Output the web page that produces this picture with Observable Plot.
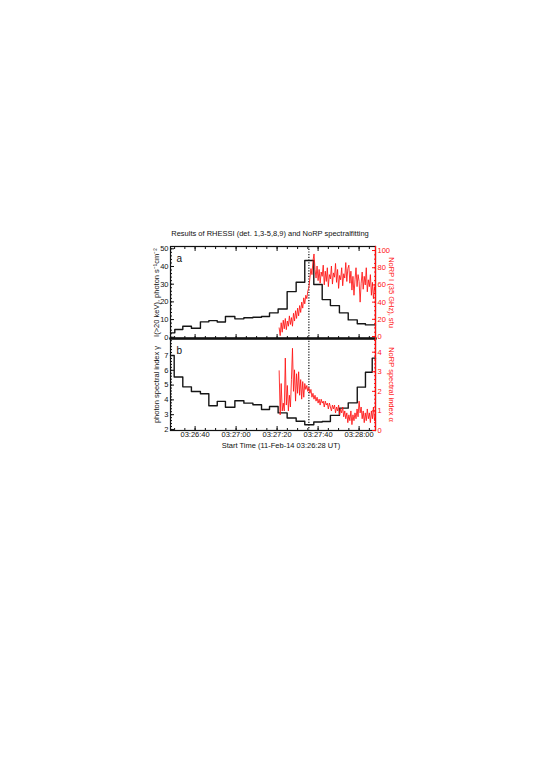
<!DOCTYPE html>
<html><head><meta charset="utf-8">
<script src="https://cdn.jsdelivr.net/npm/d3@7"></script>
<script src="https://cdn.jsdelivr.net/npm/@observablehq/plot@0.6"></script>
<style>
body{margin:0;background:#fff;}
#wrap{position:relative;width:540px;height:763px;font-family:"Liberation Sans",Arial,Helvetica,sans-serif;}
#wrap svg{position:absolute;left:0;top:0;}
#title{position:absolute;left:0;width:540px;top:229.5px;text-align:center;font-size:7.5px;line-height:1;color:#111;white-space:nowrap;}
</style></head>
<body>
<div id="wrap"><div id="title">Results of RHESSI (det. 1,3-5,8,9) and NoRP spectralfitting</div></div>
<script>
// ---- data (time in seconds after 03:26:28 UT) ----
const timeStart = 0, timeEnd = 100;
const xTicks = [12, 32, 52, 72, 92];
const xTickLabels = ["03:26:40", "03:27:00", "03:27:20", "03:27:40", "03:28:00"];
const peakTime = 67.5;

// RHESSI >20 keV flux histogram (bin start times, values)
const fluxBinStart = [0, 2.1, 6.0, 10.2, 14.6, 18.7, 22.8, 26.8, 31.4, 35.8, 40.2, 44.4, 48.3, 52.5, 56.9, 61.3, 65.5, 69.9, 74.0, 78.0, 82.4, 86.7, 91.1, 95.1];
const fluxValues   = [2.5, 4.4, 6.2, 5.1, 8.7, 9.4, 8.6, 11.7, 10.4, 11.0, 11.3, 11.7, 13.8, 16.0, 25.8, 31.1, 43.4, 29.8, 21.3, 17.9, 13.8, 9.8, 7.6, 7.0];

// RHESSI photon spectral index gamma
const gammaBinStart = [0, 1.8, 6.0, 10.2, 14.6, 18.7, 22.8, 26.8, 31.4, 35.8, 40.2, 44.4, 48.3, 52.5, 56.9, 61.3, 65.5, 69.9, 74.0, 78.0, 82.4, 86.7, 91.1, 95.1, 98.4];
const gammaValues   = [7.0, 5.55, 4.88, 4.57, 4.41, 3.6, 3.9, 3.5, 3.94, 3.78, 3.67, 3.35, 3.55, 3.12, 2.78, 2.56, 2.32, 2.5, 2.54, 2.95, 3.44, 3.8, 4.86, 5.87, 6.82];

// NoRP 35 GHz flux (sfu), sampled every 0.5 s from t = 53 s
const norpStart = 53, norpStep = 0.5;
const norpFlux = [10,1,16,5,19,9,21,8,18,12,24,14,22,12,27,18,30,21,33,24,36,28,40,33,45,38,48,44,53,57,
  68,79,72,88,96,78,68,82,65,78,62,75,70,83,60,76,64,80,58,72,67,82,61,74,69,85,63,78,56,71,
  66,80,59,73,68,86,64,79,83,62,76,54,70,48,66,80,58,72,64,40,62,75,55,70,60,80,52,66,58,72,
  48,63,44,58,50];

// NoRP spectral index alpha, same sampling
const norpAlpha = [3.05,0.8,2.4,1.0,1.4,1.0,3.7,1.3,2.3,1.0,1.8,1.2,2.6,4.2,2.0,3.1,1.5,2.9,1.9,3.0,
  1.8,2.6,1.6,2.5,1.7,2.4,2.1,2.3,2.0,2.2,1.9,2.1,1.7,1.9,1.6,1.8,1.5,1.7,1.4,1.6,
  1.3,1.6,1.4,1.5,1.2,1.5,1.3,1.4,1.1,1.4,1.2,1.0,1.3,1.1,1.3,0.9,1.2,1.0,1.3,0.8,
  1.1,0.9,1.2,0.7,1.0,0.6,0.9,0.4,0.8,0.5,1.0,0.3,0.8,0.5,0.9,0.6,1.1,0.7,1.5,0.9,
  1.2,0.6,1.0,0.4,0.9,0.5,1.1,0.6,0.9,0.4,1.0,0.6,1.2,0.5,0.9];

const fluxTicks = [0, 10, 20, 30, 40, 50];
const fluxMinor = d3.range(0, 51, 2);
const sfuTicks = [0, 20, 40, 60, 80, 100];
const sfuMinor = d3.range(0, 101, 5);
const gammaTicks = [2, 3, 4, 5, 6, 7];
const gammaMinor = d3.range(2, 8.01, 0.2);
const alphaTicks = [0, 1, 2, 3, 4];
const alphaMinor = d3.range(0, 4.61, 0.2);
const xMinor = d3.range(2, 100, 5);

// ---- build ----
const font = '"Liberation Sans", Arial, Helvetica, sans-serif';
const RED = "#ff1010";
const stepRows = (starts, vals) => starts.map((t, i) => ({t, v: vals[i]})).concat([{t: timeEnd, v: vals[vals.length - 1]}]);
const seriesRows = (start, step, vals) => vals.map((v, i) => ({t: start + i * step, v}));
const fmtX = d => xTickLabels[xTicks.indexOf(d)];
const fmtN = d => String(d);

const common = {
  width: 540, height: 460, marginLeft: 170, marginRight: 165,
  style: {background: "transparent", fontFamily: font, fontSize: "7.5px", overflow: "visible", color: "#111"}
};

function xTickMarks(withTop) {
  const m = [
    Plot.axisX({anchor: "bottom", ticks: xTicks, tickSize: 4, dy: -4, fill: "none", label: null}),
    Plot.axisX({anchor: "bottom", ticks: xMinor, tickSize: 2, dy: -2, fill: "none", label: null})
  ];
  if (withTop) m.push(
    Plot.axisX({anchor: "top", ticks: xTicks, tickSize: 4, dy: 4, fill: "none", label: null}),
    Plot.axisX({anchor: "top", ticks: xMinor, tickSize: 2, dy: 2, fill: "none", label: null})
  );
  return m;
}

const topBlack = Plot.plot({
  ...common, marginTop: 246, marginBottom: 122,
  x: {domain: [timeStart, timeEnd]},
  y: {domain: [-0.7, 51.3]},
  marks: [
    Plot.axisY({anchor: "left", ticks: fluxTicks, tickSize: 0, tickPadding: 2, tickFormat: fmtN, label: null}),
    Plot.axisY({anchor: "left", ticks: fluxTicks, tickSize: 4, dx: 4, fill: "none", label: null}),
    Plot.axisY({anchor: "left", ticks: fluxMinor, tickSize: 2, dx: 2, fill: "none", label: null}),
    ...xTickMarks(true),
    Plot.line(stepRows(fluxBinStart, fluxValues), {x: "t", y: "v", curve: "step-after", stroke: "#151515", strokeWidth: 1.4}),
    Plot.ruleX([peakTime], {stroke: "#111", strokeWidth: 1.2, strokeDasharray: "1.2,1.5"}),
    Plot.frame({stroke: "#111", strokeWidth: 1.2}),
    Plot.frame({anchor: "bottom", stroke: "#111", strokeWidth: 2}),
    Plot.text(["a"], {frameAnchor: "top-left", dx: 6, dy: 8, fontSize: 10, fill: "#111"}),
    Plot.text(["I(>20 keV), photon s\u207B\u00B9cm\u207B\u00B2"], {frameAnchor: "left", dx: -14, rotate: -90, textAnchor: "middle", fontSize: 7.5, fill: "#111"})
  ]
});

const topRed = Plot.plot({
  ...common, marginTop: 246, marginBottom: 122,
  x: {domain: [timeStart, timeEnd], axis: null},
  y: {domain: [-2.3, 104.7]},
  marks: [
    Plot.line(seriesRows(norpStart, norpStep, norpFlux), {x: "t", y: "v", stroke: RED, strokeWidth: 0.85}),
    Plot.axisY({anchor: "right", ticks: sfuTicks, tickSize: 0, tickPadding: 2, tickFormat: fmtN, fill: RED, label: null}),
    Plot.axisY({anchor: "right", ticks: sfuTicks, tickSize: 4, dx: -4, stroke: RED, fill: "none", label: null}),
    Plot.axisY({anchor: "right", ticks: sfuMinor, tickSize: 2, dx: -2, stroke: RED, fill: "none", label: null}),
    Plot.frame({anchor: "right", stroke: RED, strokeWidth: 1.2}),
    Plot.text(["NoRP I (35 GHz), sfu"], {frameAnchor: "right", dx: 16, rotate: 90, textAnchor: "middle", fontSize: 7.5, fill: RED})
  ]
});

const botBlack = Plot.plot({
  ...common, marginTop: 338, marginBottom: 30,
  x: {domain: [timeStart, timeEnd]},
  y: {domain: [1.93, 8.15]},
  marks: [
    Plot.axisY({anchor: "left", ticks: gammaTicks, tickSize: 0, tickPadding: 2, tickFormat: fmtN, label: null}),
    Plot.axisY({anchor: "left", ticks: gammaTicks, tickSize: 4, dx: 4, fill: "none", label: null}),
    Plot.axisY({anchor: "left", ticks: gammaMinor, tickSize: 2, dx: 2, fill: "none", label: null}),
    Plot.axisX({anchor: "bottom", ticks: xTicks, tickSize: 0, tickPadding: 1.5, tickFormat: fmtX, label: null}),
    ...xTickMarks(false),
    Plot.line(stepRows(gammaBinStart, gammaValues), {x: "t", y: "v", curve: "step-after", stroke: "#151515", strokeWidth: 1.4}),
    Plot.ruleX([peakTime], {stroke: "#111", strokeWidth: 1.2, strokeDasharray: "1.2,1.5"}),
    Plot.frame({stroke: "#111", strokeWidth: 1.2}),
    Plot.frame({anchor: "top", stroke: "#111", strokeWidth: 2}),
    Plot.text(["b"], {frameAnchor: "top-left", dx: 6, dy: 8, fontSize: 10, fill: "#111"}),
    Plot.text(["photon spectral index \u03B3"], {frameAnchor: "left", dx: -14, rotate: -90, textAnchor: "middle", fontSize: 7.5, fill: "#111"}),
    Plot.text(["Start Time (11-Feb-14 03:26:28 UT)"], {frameAnchor: "bottom", dy: 15.5, dx: 8, lineAnchor: "middle", fontSize: 7.5, fill: "#111"})
  ]
});

const botRed = Plot.plot({
  ...common, marginTop: 338, marginBottom: 30,
  x: {domain: [timeStart, timeEnd], axis: null},
  y: {domain: [0, 4.7]},
  marks: [
    Plot.line(seriesRows(norpStart, norpStep, norpAlpha), {x: "t", y: "v", stroke: RED, strokeWidth: 0.85}),
    Plot.axisY({anchor: "right", ticks: alphaTicks, tickSize: 0, tickPadding: 2, tickFormat: fmtN, fill: RED, label: null}),
    Plot.axisY({anchor: "right", ticks: alphaTicks, tickSize: 4, dx: -4, stroke: RED, fill: "none", label: null}),
    Plot.axisY({anchor: "right", ticks: alphaMinor, tickSize: 2, dx: -2, stroke: RED, fill: "none", label: null}),
    Plot.frame({anchor: "right", stroke: RED, strokeWidth: 1.2}),
    Plot.text(["NoRP spectral index \u03B1"], {frameAnchor: "right", dx: 16, rotate: 90, textAnchor: "middle", fontSize: 7.5, fill: RED})
  ]
});

const wrap = document.getElementById("wrap");
[topBlack, botBlack, topRed, botRed].forEach(s => wrap.appendChild(s));
</script>
</body></html>
